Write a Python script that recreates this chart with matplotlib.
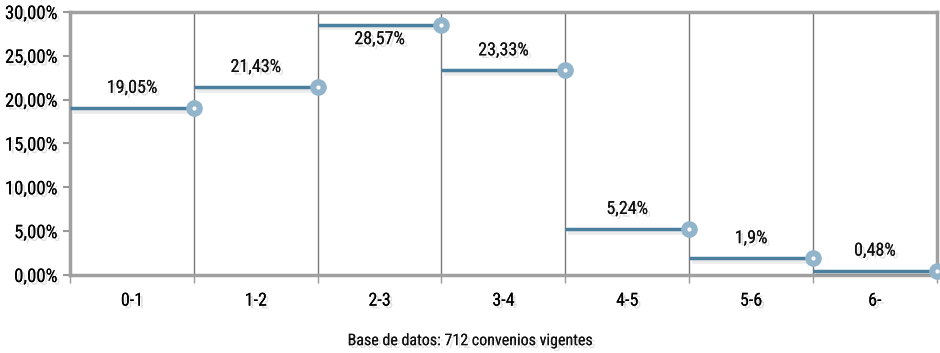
import numpy as np
import matplotlib.pyplot as plt
import matplotlib.patheffects as pe
from matplotlib import font_manager

# datos
categorias = ['0-1', '1-2', '2-3', '3-4', '4-5', '5-6', '6-']
valores = [19.05, 21.43, 28.57, 23.33, 5.24, 1.9, 0.48]
etiquetas = ['19,05%', '21,43%', '28,57%', '23,33%', '5,24%', '1,9%', '0,48%']
yticks = [0, 5, 10, 15, 20, 25, 30]
ytick_labels = ['0,00%', '5,00%', '10,00%', '15,00%', '20,00%', '25,00%', '30,00%']
nota = 'Base de datos: 712 convenios vigentes'

nombres = {f.name for f in font_manager.fontManager.ttflist}
fuente = 'DejaVu Sans'
for f in ['Liberation Sans Narrow', 'Roboto Condensed', 'Open Sans Condensed', 'Lato']:
    if f in nombres:
        fuente = f
        break
plt.rcParams['font.family'] = [fuente, 'DejaVu Sans']

sombra_txt = [pe.withSimplePatchShadow(offset=(2, -2), shadow_rgbFace='#000000', alpha=0.12), pe.Normal()]
sombra_lin = [pe.SimpleLineShadow(offset=(2, -2), shadow_color='#000000', alpha=0.08, linewidth=4), pe.Normal()]

fig = plt.figure(figsize=(9.4, 3.53), dpi=100)
ax = fig.add_axes([0.0745, 0.221, 0.922, 0.745])

n = len(categorias)
for i, v in enumerate(valores):
    ax.plot([i, i + 1], [v, v], color='#4a7fa0', lw=2.5, solid_capstyle='butt',
            path_effects=sombra_lin, zorder=3)
    ax.plot([i + 1], [v], marker='o', ms=12, mfc='#93b5cc', mec='#93b5cc', mew=0,
            zorder=4, clip_on=False)
    ax.plot([i + 1], [v], marker='o', ms=3, mfc='white', mec='white', mew=0,
            zorder=5, clip_on=False)
    off = -10.5 if v > 27 else 14.5
    ax.annotate(etiquetas[i], (i + 0.5, v), xytext=(0, off), textcoords='offset points',
                ha='center', va='center', fontsize=13, color='#111111',
                path_effects=sombra_txt)

ax.set_xlim(0, n)
ax.set_ylim(0, 30)
ax.set_yticks(yticks)
ax.set_yticklabels(ytick_labels, fontsize=13.5)
ax.set_xticks(np.arange(0, n + 1))
ax.set_xticklabels([])
ax.set_xticks(np.arange(n) + 0.5, minor=True)
ax.set_xticklabels(categorias, minor=True, fontsize=13)
ax.tick_params(axis='x', which='minor', length=0, pad=12)
ax.tick_params(axis='x', which='major', length=6, color='#999999', width=1)
ax.tick_params(axis='y', length=5, color='#999999', width=1.5, pad=4)
for t in ax.get_yticklabels() + ax.get_xticklabels(minor=True):
    t.set_path_effects(sombra_txt)

for x in range(1, n):
    ax.axvline(x, color='#777777', lw=1, zorder=1)
for s in ax.spines.values():
    s.set_color('#a0a0a0')
    s.set_linewidth(2.5)

fig.text(0.5, 0.035, nota, ha='center', va='center', fontsize=11.5, color='#111111',
         path_effects=sombra_txt)

fig.savefig('out.png', dpi=100)
